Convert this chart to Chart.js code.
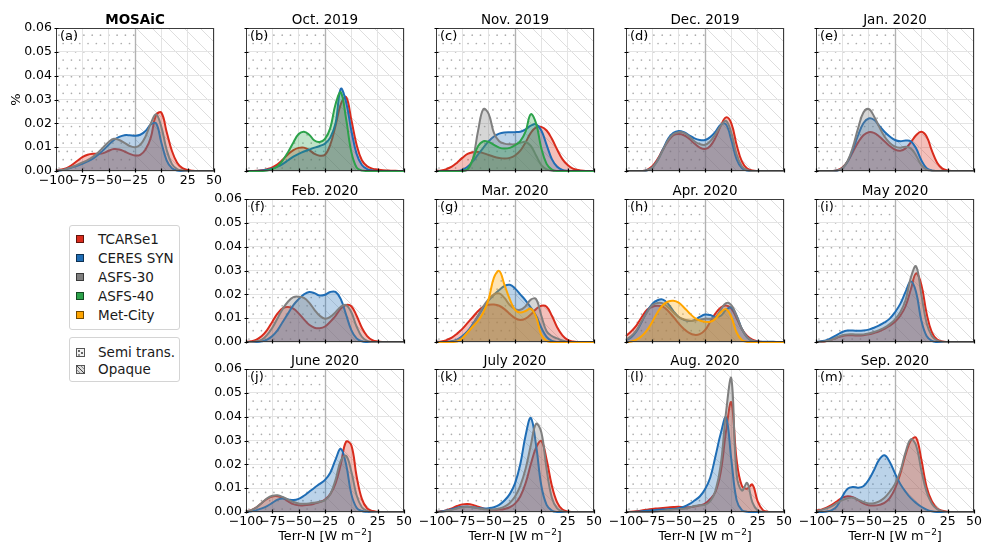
<!DOCTYPE html>
<html>
<head>
<meta charset="utf-8">
<script src="https://cdn.jsdelivr.net/npm/chart.js@4/dist/chart.umd.min.js"></script>
<style>
  body { margin: 0; background: #fff; }
  #fig { position: relative; width: 982px; height: 546px; overflow: hidden; font-family: "DejaVu Sans", sans-serif; background: #fff; }
  #fig canvas { position: absolute; }
  .lg { position: absolute; left: 69px; width: 111px; box-sizing: border-box; border: 1px solid #d4d4d4; border-radius: 3px; background: #fff; font-size: 13.5px; color: #1a1a1a; }
  .it { position: absolute; left: 6px; height: 16px; transform: translateY(-50%); display: flex; align-items: center; white-space: nowrap; }
  .sw { width: 8px; height: 8px; box-sizing: border-box; border: 1px solid rgba(0,0,0,0.55); margin-right: 14px; flex: none; }
  .it svg { margin-right: 13px; flex: none; }
</style>
</head>
<body>
<div id="fig">
  <div class="lg" style="top:225px;height:105px;">
    <div class="it" style="top:13px"><span class="sw" style="background:#d92b1c"></span>TCARSe1</div>
    <div class="it" style="top:32px"><span class="sw" style="background:#1f6db5"></span>CERES SYN</div>
    <div class="it" style="top:51px"><span class="sw" style="background:#7f7f7f"></span>ASFS-30</div>
    <div class="it" style="top:70px"><span class="sw" style="background:#2ca24a"></span>ASFS-40</div>
    <div class="it" style="top:89px"><span class="sw" style="background:#ffa500"></span>Met-City</div>
  </div>
  <div class="lg" style="top:337px;height:45px;">
    <div class="it" style="top:14px"><svg width="9" height="9" viewBox="0 0 9 9"><rect x="0.5" y="0.5" width="8" height="8" fill="#f2f2f2" stroke="#555" stroke-width="1"/><circle cx="3" cy="3" r="0.9" fill="#222"/><circle cx="6" cy="5" r="0.9" fill="#222"/><circle cx="3" cy="7" r="0.8" fill="#222"/></svg>Semi trans.</div>
    <div class="it" style="top:31px"><svg width="9" height="9" viewBox="0 0 9 9"><rect x="0.5" y="0.5" width="8" height="8" fill="#dcdcdc" stroke="#555" stroke-width="1"/><line x1="0.5" y1="0.5" x2="8.5" y2="8.5" stroke="#444" stroke-width="1"/><line x1="0.5" y1="4.5" x2="4.5" y2="8.5" stroke="#777" stroke-width="0.8"/><line x1="4.5" y1="0.5" x2="8.5" y2="4.5" stroke="#777" stroke-width="0.8"/></svg>Opaque</div>
  </div>
</div>
<script>
// Evaluation grid of the density curves, W m-2
const terrN = [-100,-95,-90,-85,-80,-75,-70,-65,-60,-55,-50,-45,-40,-35,-30,-25,-20,-15,-10,-5,0,5,10,15,20,25,30,35,40,45,50];
const xTicks = [-100,-75,-50,-25,0,25,50];
const yTicks = [0,0.01,0.02,0.03,0.04,0.05,0.06];
const regimeSplit = -25;

// (a) MOSAiC, whole campaign
const mosaicTcars  = [.0002,.0006,.0012,.0025,.0042,.0058,.0068,.0072,.0072,.0075,.0085,.0092,.0090,.0082,.0072,.0065,.0068,.0090,.0140,.0235,.0245,.0165,.0085,.0035,.0012,.0004,.0001,0,0,0,0];
const mosaicCeres  = [0,.0003,.0008,.0015,.0022,.0030,.0040,.0052,.0068,.0088,.0110,.0130,.0143,.0150,.0150,.0148,.0152,.0168,.0195,.0200,.0120,.0045,.0012,.0002,0,0,0,0,0,0,0];
const mosaicAsfs30 = [.0001,.0004,.0009,.0016,.0026,.0036,.0046,.0060,.0078,.0100,.0122,.0135,.0130,.0118,.0105,.0100,.0110,.0145,.0200,.0238,.0185,.0090,.0030,.0008,.0002,0,0,0,0,0,0];

// (b) Oct. 2019
const oct19Tcars  = [0,0,.0001,.0003,.0008,.0015,.0028,.0048,.0070,.0088,.0097,.0098,.0088,.0072,.0064,.0068,.0110,.0190,.0280,.0310,.0215,.0110,.0045,.0020,.0010,.0006,.0003,.0002,.0001,0,0];
const oct19Ceres  = [0,0,0,.0002,.0005,.0010,.0018,.0030,.0045,.0060,.0072,.0082,.0090,.0098,.0105,.0115,.0140,.0200,.0345,.0290,.0170,.0072,.0025,.0008,.0002,0,0,0,0,0,0];
const oct19Asfs40 = [0,0,0,0,.0002,.0008,.0020,.0045,.0080,.0120,.0155,.0165,.0152,.0128,.0122,.0135,.0180,.0280,.0330,.0220,.0080,.0015,.0002,0,0,0,0,0,0,0,0];

// (c) Nov. 2019
const nov19Tcars  = [0,.0002,.0008,.0018,.0035,.0055,.0072,.0079,.0080,.0075,.0067,.0060,.0055,.0052,.0055,.0065,.0085,.0120,.0160,.0183,.0185,.0170,.0135,.0090,.0050,.0025,.0010,.0004,.0001,0,0];
const nov19Ceres  = [0,0,0,0,0,.0005,.0018,.0040,.0070,.0098,.0125,.0145,.0157,.0162,.0163,.0163,.0165,.0175,.0190,.0196,.0170,.0110,.0050,.0018,.0005,.0001,0,0,0,0,0];
const nov19Asfs30 = [0,0,0,0,0,0,.0005,.0050,.0170,.0260,.0240,.0160,.0125,.0115,.0112,.0112,.0118,.0122,.0105,.0065,.0025,.0007,.0001,0,0,0,0,0,0,0,0];
const nov19Asfs40 = [0,0,0,0,0,0,.0008,.0050,.0105,.0125,.0122,.0110,.0098,.0094,.0097,.0108,.0125,.0165,.0238,.0200,.0095,.0030,.0006,0,0,0,0,0,0,0,0];

// (d) Dec. 2019
const dec19Tcars  = [0,0,0,0,.0005,.0020,.0050,.0090,.0125,.0150,.0155,.0150,.0135,.0115,.0098,.0092,.0105,.0140,.0190,.0225,.0200,.0110,.0040,.0010,.0002,0,0,0,0,0,0];
const dec19Ceres  = [0,0,0,0,.0003,.0015,.0045,.0090,.0135,.0160,.0168,.0163,.0150,.0137,.0130,.0130,.0142,.0165,.0195,.0195,.0130,.0050,.0012,.0002,0,0,0,0,0,0,0];
const dec19Asfs30 = [0,0,0,0,.0003,.0015,.0045,.0088,.0130,.0155,.0163,.0160,.0145,.0125,.0113,.0110,.0125,.0155,.0190,.0210,.0160,.0070,.0020,.0004,0,0,0,0,0,0,0];

// (e) Jan. 2020
const jan20Tcars  = [0,0,0,0,.0003,.0015,.0040,.0080,.0120,.0150,.0163,.0160,.0145,.0125,.0105,.0090,.0085,.0095,.0120,.0150,.0165,.0145,.0085,.0035,.0010,.0002,0,0,0,0,0];
const jan20Ceres  = [0,0,0,0,.0002,.0012,.0040,.0090,.0150,.0200,.0220,.0215,.0190,.0165,.0145,.0130,.0125,.0128,.0125,.0095,.0045,.0012,.0002,0,0,0,0,0,0,0,0];
const jan20Asfs30 = [0,0,0,0,.0002,.0012,.0042,.0100,.0180,.0245,.0260,.0230,.0185,.0145,.0118,.0102,.0098,.0102,.0095,.0065,.0025,.0006,.0001,0,0,0,0,0,0,0,0];

// (f) Feb. 2020
const feb20Tcars  = [0,.0003,.0010,.0025,.0050,.0085,.0120,.0142,.0147,.0140,.0120,.0095,.0072,.0060,.0058,.0065,.0085,.0110,.0140,.0155,.0150,.0110,.0060,.0025,.0008,.0002,0,0,0,0,0];
const feb20Ceres  = [0,0,0,.0003,.0010,.0025,.0050,.0085,.0120,.0155,.0180,.0200,.0210,.0205,.0195,.0198,.0210,.0210,.0180,.0115,.0050,.0015,.0003,0,0,0,0,0,0,0,0];
const feb20Asfs30 = [0,0,.0003,.0010,.0030,.0060,.0100,.0140,.0170,.0188,.0190,.0185,.0165,.0135,.0110,.0098,.0105,.0125,.0148,.0155,.0125,.0065,.0022,.0005,0,0,0,0,0,0,0];

// (g) Mar. 2020
const mar20Tcars   = [0,.0002,.0008,.0018,.0035,.0055,.0080,.0105,.0130,.0148,.0156,.0157,.0152,.0138,.0118,.0100,.0092,.0098,.0115,.0138,.0152,.0148,.0110,.0062,.0028,.0009,.0002,0,0,0,0];
const mar20Ceres   = [0,0,0,.0003,.0010,.0025,.0045,.0075,.0110,.0145,.0175,.0198,.0218,.0235,.0240,.0225,.0200,.0175,.0145,.0110,.0060,.0022,.0005,0,0,0,0,0,0,0,0];
const mar20Asfs30  = [0,0,0,.0002,.0008,.0020,.0040,.0070,.0110,.0150,.0180,.0200,.0204,.0185,.0155,.0138,.0135,.0150,.0178,.0180,.0110,.0045,.0025,.0015,.0006,.0001,0,0,0,0,0];
const mar20MetCity = [0,0,0,0,.0002,.0015,.0040,.0065,.0090,.0125,.0180,.0270,.0298,.0240,.0180,.0135,.0124,.0130,.0140,.0105,.0030,.0005,0,0,0,0,0,0,0,0,0];

// (h) Apr. 2020
const apr20Tcars   = [.0025,.0045,.0070,.0105,.0135,.0148,.0152,.0148,.0130,.0105,.0078,.0055,.0038,.0030,.0033,.0050,.0085,.0120,.0145,.0153,.0140,.0100,.0055,.0025,.0010,.0003,0,0,0,0,0];
const apr20Ceres   = [.0008,.0020,.0045,.0085,.0128,.0160,.0175,.0178,.0160,.0130,.0105,.0093,.0088,.0092,.0105,.0115,.0113,.0105,.0110,.0135,.0145,.0110,.0055,.0020,.0006,.0002,.0001,.0001,.0001,0,0];
const apr20Asfs30  = [.0010,.0025,.0050,.0088,.0125,.0155,.0164,.0162,.0146,.0125,.0105,.0095,.0090,.0090,.0093,.0098,.0098,.0105,.0135,.0163,.0155,.0110,.0055,.0020,.0006,.0001,0,0,0,0,0];
const apr20MetCity = [0,.0002,.0010,.0025,.0050,.0085,.0125,.0155,.0170,.0173,.0165,.0145,.0122,.0102,.0090,.0085,.0085,.0098,.0125,.0138,.0105,.0040,.0008,0,0,0,0,0,0,0,0];

// (i) May 2020
const may20Tcars  = [0,.0001,.0004,.0010,.0018,.0025,.0028,.0028,.0027,.0028,.0032,.0038,.0045,.0055,.0068,.0085,.0110,.0150,.0220,.0288,.0240,.0120,.0040,.0010,.0002,0,0,0,0,0,0];
const may20Ceres  = [0,.0003,.0008,.0018,.0030,.0042,.0048,.0048,.0047,.0048,.0052,.0060,.0070,.0082,.0098,.0125,.0160,.0210,.0255,.0210,.0090,.0025,.0005,0,0,0,0,0,0,0,0];
const may20Asfs30 = [0,.0001,.0004,.0010,.0020,.0028,.0032,.0032,.0031,.0032,.0036,.0042,.0050,.0060,.0075,.0095,.0125,.0175,.0270,.0318,.0200,.0080,.0025,.0006,.0001,0,0,0,0,0,0];

// (j) June 2020
const jun20Tcars  = [.0002,.0008,.0020,.0038,.0055,.0065,.0066,.0058,.0045,.0033,.0028,.0028,.0030,.0035,.0042,.0052,.0075,.0120,.0200,.0295,.0280,.0150,.0055,.0015,.0004,.0001,0,0,0,0,0];
const jun20Ceres  = [0,.0003,.0008,.0015,.0025,.0038,.0052,.0057,.0053,.0050,.0055,.0068,.0085,.0102,.0118,.0135,.0165,.0220,.0265,.0200,.0075,.0018,.0004,.0001,0,0,0,0,0,0,0];
const jun20Asfs30 = [.0002,.0008,.0020,.0038,.0057,.0068,.0070,.0063,.0052,.0042,.0036,.0035,.0036,.0039,.0043,.0050,.0075,.0135,.0215,.0236,.0170,.0070,.0020,.0005,.0001,0,0,0,0,0,0];

// (k) July 2020
const jul20Tcars  = [0,.0003,.0008,.0015,.0025,.0032,.0034,.0030,.0022,.0015,.0010,.0009,.0010,.0013,.0020,.0035,.0065,.0120,.0200,.0270,.0298,.0220,.0110,.0040,.0010,.0002,0,0,0,0,0];
const jul20Ceres  = [0,.0002,.0006,.0012,.0018,.0022,.0023,.0020,.0017,.0015,.0016,.0020,.0030,.0048,.0075,.0120,.0200,.0320,.0395,.0280,.0110,.0030,.0006,0,0,0,0,0,0,0,0];
const jul20Asfs30 = [0,.0001,.0004,.0009,.0015,.0020,.0022,.0020,.0016,.0012,.0010,.0011,.0015,.0023,.0038,.0065,.0110,.0180,.0280,.0370,.0335,.0180,.0060,.0015,.0003,0,0,0,0,0,0];

// (l) Aug. 2020
const aug20Tcars  = [0,.0001,.0003,.0006,.0010,.0013,.0015,.0017,.0019,.0021,.0022,.0020,.0020,.0023,.0028,.0035,.0055,.0085,.0170,.0340,.0460,.0220,.0110,.0098,.0115,.0045,.0008,.0001,0,0,0];
const aug20Ceres  = [0,0,.0001,.0003,.0005,.0007,.0009,.0010,.0012,.0013,.0016,.0022,.0033,.0048,.0065,.0095,.0145,.0235,.0330,.0397,.0220,.0050,.0008,.0001,0,0,0,0,0,0,0];
const aug20Asfs30 = [0,0,0,0,0,0,.0002,.0005,.0008,.0010,.0012,.0014,.0018,.0025,.0028,.0030,.0045,.0090,.0200,.0420,.0560,.0160,.0090,.0122,.0040,.0006,.0001,0,0,0,0];

// (m) Sep. 2020
const sep20Tcars  = [.0006,.0010,.0018,.0030,.0045,.0060,.0066,.0062,.0050,.0036,.0028,.0027,.0030,.0038,.0058,.0098,.0160,.0240,.0300,.0312,.0220,.0105,.0045,.0015,.0005,.0001,0,0,0,0,0];
const sep20Ceres  = [0,0,.0002,.0008,.0025,.0065,.0098,.0105,.0102,.0108,.0135,.0175,.0220,.0238,.0210,.0162,.0118,.0085,.0058,.0038,.0022,.0010,.0003,0,0,0,0,0,0,0,0];
const sep20Asfs30 = [.0003,.0008,.0015,.0025,.0038,.0050,.0058,.0060,.0052,.0042,.0036,.0037,.0045,.0060,.0085,.0118,.0170,.0250,.0305,.0280,.0175,.0085,.0035,.0012,.0003,0,0,0,0,0,0];

// Series styling and drawing order (first entry ends up lowest)
const STYLE = {
  'TCARSe1':   { line: '#d92b1c', fill: 'rgba(217,43,28,0.30)',  order: 5 },
  'CERES SYN': { line: '#1f6db5', fill: 'rgba(31,109,181,0.30)', order: 4 },
  'ASFS-30':   { line: '#7f7f7f', fill: 'rgba(127,127,127,0.32)', order: 3 },
  'ASFS-40':   { line: '#2ca24a', fill: 'rgba(44,162,74,0.30)',  order: 2 },
  'Met-City':  { line: '#ffa500', fill: 'rgba(255,165,0,0.30)',  order: 1 }
};

const panels = [
  { tag: '(a)', title: 'MOSAiC', bold: true, col: 0, row: 0, xLab: true, yLab: true, yTitle: true,
    series: [['TCARSe1', mosaicTcars], ['CERES SYN', mosaicCeres], ['ASFS-30', mosaicAsfs30]] },
  { tag: '(b)', title: 'Oct. 2019', col: 1, row: 0,
    series: [['TCARSe1', oct19Tcars], ['CERES SYN', oct19Ceres], ['ASFS-40', oct19Asfs40]] },
  { tag: '(c)', title: 'Nov. 2019', col: 2, row: 0,
    series: [['TCARSe1', nov19Tcars], ['CERES SYN', nov19Ceres], ['ASFS-30', nov19Asfs30], ['ASFS-40', nov19Asfs40]] },
  { tag: '(d)', title: 'Dec. 2019', col: 3, row: 0,
    series: [['TCARSe1', dec19Tcars], ['CERES SYN', dec19Ceres], ['ASFS-30', dec19Asfs30]] },
  { tag: '(e)', title: 'Jan. 2020', col: 4, row: 0,
    series: [['TCARSe1', jan20Tcars], ['CERES SYN', jan20Ceres], ['ASFS-30', jan20Asfs30]] },
  { tag: '(f)', title: 'Feb. 2020', col: 1, row: 1, yLab: true,
    series: [['TCARSe1', feb20Tcars], ['CERES SYN', feb20Ceres], ['ASFS-30', feb20Asfs30]] },
  { tag: '(g)', title: 'Mar. 2020', col: 2, row: 1,
    series: [['TCARSe1', mar20Tcars], ['CERES SYN', mar20Ceres], ['ASFS-30', mar20Asfs30], ['Met-City', mar20MetCity]] },
  { tag: '(h)', title: 'Apr. 2020', col: 3, row: 1,
    series: [['TCARSe1', apr20Tcars], ['CERES SYN', apr20Ceres], ['ASFS-30', apr20Asfs30], ['Met-City', apr20MetCity]] },
  { tag: '(i)', title: 'May 2020', col: 4, row: 1,
    series: [['TCARSe1', may20Tcars], ['CERES SYN', may20Ceres], ['ASFS-30', may20Asfs30]] },
  { tag: '(j)', title: 'June 2020', col: 1, row: 2, yLab: true, xLab: true, xTitle: true,
    series: [['TCARSe1', jun20Tcars], ['CERES SYN', jun20Ceres], ['ASFS-30', jun20Asfs30]] },
  { tag: '(k)', title: 'July 2020', col: 2, row: 2, xLab: true, xTitle: true,
    series: [['TCARSe1', jul20Tcars], ['CERES SYN', jul20Ceres], ['ASFS-30', jul20Asfs30]] },
  { tag: '(l)', title: 'Aug. 2020', col: 3, row: 2, xLab: true, xTitle: true,
    series: [['TCARSe1', aug20Tcars], ['CERES SYN', aug20Ceres], ['ASFS-30', aug20Asfs30]] },
  { tag: '(m)', title: 'Sep. 2020', col: 4, row: 2, xLab: true, xTitle: true,
    series: [['TCARSe1', sep20Tcars], ['CERES SYN', sep20Ceres], ['ASFS-30', sep20Asfs30]] }
];

// Grid of subplot positions (left / top of each plot area) and margins
const COL_LEFT = [56, 246, 436, 626, 816];
const ROW_TOP = [28, 199, 369];
const PW = 158, PH = 143;
const ML = 52, MR = 22, MT = 30, MB = 44;
const FONT = '"DejaVu Sans", sans-serif';
const TICK_PX = 12.5;

Chart.defaults.font.family = FONT;
Chart.defaults.color = '#000';

const minus = s => String(s).replace('-', '\u2212');

// Background regimes: dotted (semi-transparent) left of the split, diagonal hatch (opaque) right of it
function drawRegimes(ctx, a, xs) {
  ctx.save();
  ctx.beginPath();
  ctx.rect(a.left, a.top, xs - a.left, a.bottom - a.top);
  ctx.clip();
  ctx.fillStyle = 'rgba(0,0,0,0.32)';
  const s = 8.3;
  let row = 0;
  for (let y = a.bottom - 3; y > a.top; y -= s, row++) {
    const off = (row % 2) ? s / 2 : 0;
    for (let x = a.left + 3 + off; x < xs; x += s) {
      ctx.beginPath();
      ctx.arc(x, y, 0.85, 0, Math.PI * 2);
      ctx.fill();
    }
  }
  ctx.restore();

  ctx.save();
  ctx.beginPath();
  ctx.rect(xs, a.top, a.right - xs, a.bottom - a.top);
  ctx.clip();
  ctx.strokeStyle = 'rgba(0,0,0,0.13)';
  ctx.lineWidth = 1;
  const h = a.bottom - a.top, g = 16;
  for (let x0 = xs - h; x0 < a.right + g; x0 += g) {
    ctx.beginPath();
    ctx.moveTo(x0, a.top);
    ctx.lineTo(x0 + h, a.bottom);
    ctx.stroke();
  }
  ctx.restore();
}

function decoPlugin(p) {
  return {
    id: 'panelDeco',
    beforeDraw(chart) {
      const a = chart.chartArea;
      const xs = chart.scales.x.getPixelForValue(regimeSplit);
      drawRegimes(chart.ctx, a, xs);
    },
    beforeDatasetsDraw(chart) {
      const ctx = chart.ctx, a = chart.chartArea;
      const xs = Math.round(chart.scales.x.getPixelForValue(regimeSplit)) + 0.5;
      ctx.save();
      ctx.strokeStyle = 'rgba(0,0,0,0.22)';
      ctx.lineWidth = 1.5;
      ctx.beginPath();
      ctx.moveTo(xs, a.top);
      ctx.lineTo(xs, a.bottom);
      ctx.stroke();
      ctx.restore();
    },
    afterDraw(chart) {
      const ctx = chart.ctx, a = chart.chartArea;
      const sx = chart.scales.x, sy = chart.scales.y;
      ctx.save();
      // frame
      ctx.strokeStyle = '#3c3c3c';
      ctx.lineWidth = 1;
      ctx.strokeRect(a.left + 0.5, a.top + 0.5, a.right - a.left - 1, a.bottom - a.top - 1);
      // short tick marks on the left and bottom spines
      ctx.strokeStyle = '#000';
      ctx.lineWidth = 1.2;
      ctx.beginPath();
      xTicks.forEach(v => {
        const px = Math.round(sx.getPixelForValue(v)) + 0.5;
        ctx.moveTo(px, a.bottom - 2.5);
        ctx.lineTo(px, a.bottom + 1.5);
      });
      yTicks.forEach(v => {
        const py = Math.round(sy.getPixelForValue(v)) + 0.5;
        ctx.moveTo(a.left - 1.5, py);
        ctx.lineTo(a.left + 2.5, py);
      });
      ctx.stroke();
      // title and panel tag
      ctx.fillStyle = '#000';
      ctx.textBaseline = 'alphabetic';
      ctx.textAlign = 'center';
      ctx.font = (p.bold ? 'bold ' : '') + '13.5px ' + FONT;
      ctx.fillText(p.title, (a.left + a.right) / 2, a.top - 4);
      ctx.textAlign = 'left';
      ctx.font = '13px ' + FONT;
      ctx.fillText(p.tag, a.left + 4, a.top + 12);
      // axis titles
      if (p.yTitle) {
        ctx.save();
        ctx.translate(a.left - 40, (a.top + a.bottom) / 2);
        ctx.rotate(-Math.PI / 2);
        ctx.textAlign = 'center';
        ctx.font = '13px ' + FONT;
        ctx.fillText('%', 0, 4);
        ctx.restore();
      }
      if (p.xTitle) {
        const f = '12.8px ' + FONT, fs = '9px ' + FONT;
        const t1 = 'Terr-N [W m', t2 = '\u22122', t3 = ']';
        ctx.font = f; const w1 = ctx.measureText(t1).width, w3 = ctx.measureText(t3).width;
        ctx.font = fs; const w2 = ctx.measureText(t2).width;
        let x = (a.left + a.right) / 2 - (w1 + w2 + w3) / 2;
        const y = a.bottom + 28;
        ctx.font = f; ctx.fillText(t1, x, y); x += w1;
        ctx.font = fs; ctx.fillText(t2, x, y - 5); x += w2;
        ctx.font = f; ctx.fillText(t3, x, y);
      }
      ctx.restore();
    }
  };
}

const fig = document.getElementById('fig');

panels.forEach(p => {
  const cv = document.createElement('canvas');
  const w = ML + PW + MR, h = MT + PH + MB;
  cv.width = w; cv.height = h;
  cv.style.width = w + 'px'; cv.style.height = h + 'px';
  cv.style.left = (COL_LEFT[p.col] - ML) + 'px';
  cv.style.top = (ROW_TOP[p.row] - MT) + 'px';
  fig.appendChild(cv);

  const datasets = p.series.map(([name, ys]) => ({
    label: name,
    data: terrN.map((x, k) => ({ x: x, y: ys[k] })),
    borderColor: STYLE[name].line,
    backgroundColor: STYLE[name].fill,
    borderWidth: 2,
    pointRadius: 0,
    tension: 0.4,
    fill: 'origin',
    order: STYLE[name].order,
    clip: 4
  }));

  new Chart(cv, {
    type: 'line',
    data: { datasets },
    options: {
      responsive: false,
      animation: false,
      devicePixelRatio: 1,
      events: [],
      layout: { padding: { left: 0, right: MR, top: MT, bottom: 0 } },
      plugins: { legend: { display: false }, tooltip: { enabled: false }, title: { display: false } },
      scales: {
        x: {
          type: 'linear', min: -100, max: 50,
          afterBuildTicks: s => { s.ticks = xTicks.map(v => ({ value: v })); },
          afterFit: s => { s.height = MB; },
          ticks: {
            display: !!p.xLab, autoSkip: false, maxRotation: 0, minRotation: 0, padding: 2,
            font: { size: TICK_PX, family: FONT }, color: '#000',
            callback: v => minus(v)
          },
          grid: { color: '#e4e4e4', lineWidth: 1, drawTicks: false },
          border: { display: false }
        },
        y: {
          type: 'linear', min: 0, max: 0.06,
          afterBuildTicks: s => { s.ticks = yTicks.map(v => ({ value: v })); },
          afterFit: s => { s.width = ML; },
          ticks: {
            display: !!p.yLab, padding: 4,
            font: { size: TICK_PX, family: FONT }, color: '#000',
            callback: v => v.toFixed(2)
          },
          grid: { color: '#e4e4e4', lineWidth: 1, drawTicks: false },
          border: { display: false }
        }
      }
    },
    plugins: [decoPlugin(p)]
  });
});
</script>
</body>
</html>
